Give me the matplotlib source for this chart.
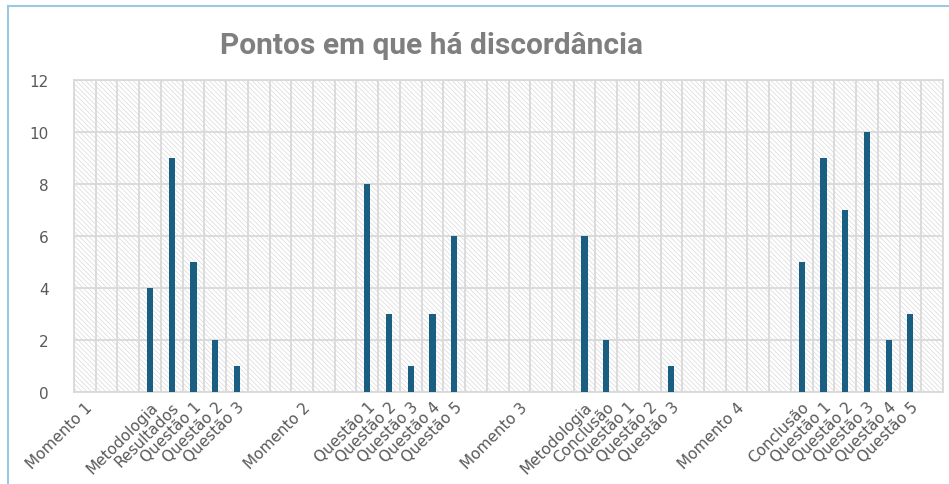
import matplotlib.pyplot as plt
from matplotlib.lines import Line2D
from matplotlib.patches import Rectangle
import numpy as np

# categorias do eixo x (posições vazias entre os momentos)
categories = [
    "Momento 1", "", "", "Metodologia", "Resultados", "Questão 1", "Questão 2", "Questão 3",
    "", "", "Momento 2", "", "", "Questão 1", "Questão 2", "Questão 3", "Questão 4", "Questão 5",
    "", "", "Momento 3", "", "", "Metodologia", "Conclusão", "Questão 1", "Questão 2", "Questão 3",
    "", "", "Momento 4", "", "", "Conclusão", "Questão 1", "Questão 2", "Questão 3", "Questão 4",
    "Questão 5", "",
]
nan = np.nan
values = [
    nan, nan, nan, 4, 9, 5, 2, 1,
    nan, nan, nan, nan, nan, 8, 3, 1, 3, 6,
    nan, nan, nan, nan, nan, 6, 2, nan, nan, 1,
    nan, nan, nan, nan, nan, 5, 9, 7, 10, 2,
    3, nan,
]
y_ticks = [0, 2, 4, 6, 8, 10, 12]
title = "Pontos em que há discordância"

BAR_COLOR = "#1a5f82"
GRID_COLOR = "#d9d9d9"
TEXT_COLOR = "#595959"

plt.rcParams["hatch.color"] = "#d9d9d9"
plt.rcParams["hatch.linewidth"] = 0.5

W, H = 949, 485
fig = plt.figure(figsize=(W / 100, H / 100), dpi=100)
ax = fig.add_axes([74 / W, 1 - 393 / H, (943 - 74) / W, (393 - 81) / H])

x = np.arange(len(categories))

# fundo hachurado da área de plotagem
ax.add_patch(Rectangle((0, 0), 1, 1, transform=ax.transAxes, facecolor="white",
                       edgecolor="#d9d9d9", hatch="\\\\\\\\\\\\\\", linewidth=0, zorder=0))

ax.bar(x, values, width=0.28, color=BAR_COLOR, zorder=3)

ax.set_xlim(-0.5, len(categories) - 0.5)
ax.set_ylim(0, 12)
ax.set_yticks(y_ticks)
ax.set_xticks(x)
ax.set_xticklabels(categories, rotation=45, ha="right", va="top",
                   rotation_mode="anchor", fontsize=11, color=TEXT_COLOR)
ax.tick_params(axis="y", labelsize=11, labelcolor=TEXT_COLOR, length=0, pad=18)
ax.tick_params(axis="x", length=0, pad=5)

# linhas de grade verticais nas fronteiras das categorias
ax.set_xticks(np.arange(-0.5, len(categories), 1), minor=True)
ax.grid(which="minor", axis="x", color=GRID_COLOR, linewidth=1.3, zorder=1)
ax.grid(which="major", axis="y", color=GRID_COLOR, linewidth=1.3, zorder=1)
ax.grid(which="major", axis="x", visible=False)
ax.tick_params(which="minor", length=0)
ax.set_axisbelow(True)
for s in ax.spines.values():
    s.set_color(GRID_COLOR)
    s.set_linewidth(1.3)

fig.text(432 / W, 1 - 46 / H, title, ha="center", va="center",
         fontsize=21.5, fontweight="bold", color="#7f7f7f", family="Roboto")

# borda da área do gráfico
border = "#9dc8e2"
fig.add_artist(Line2D([8 / W, 1], [1 - 7 / H, 1 - 7 / H], color=border, linewidth=1.5))
fig.add_artist(Line2D([8 / W, 8 / W], [0, 1 - 7 / H], color=border, linewidth=1.5))

fig.savefig("out.png", dpi=100)
